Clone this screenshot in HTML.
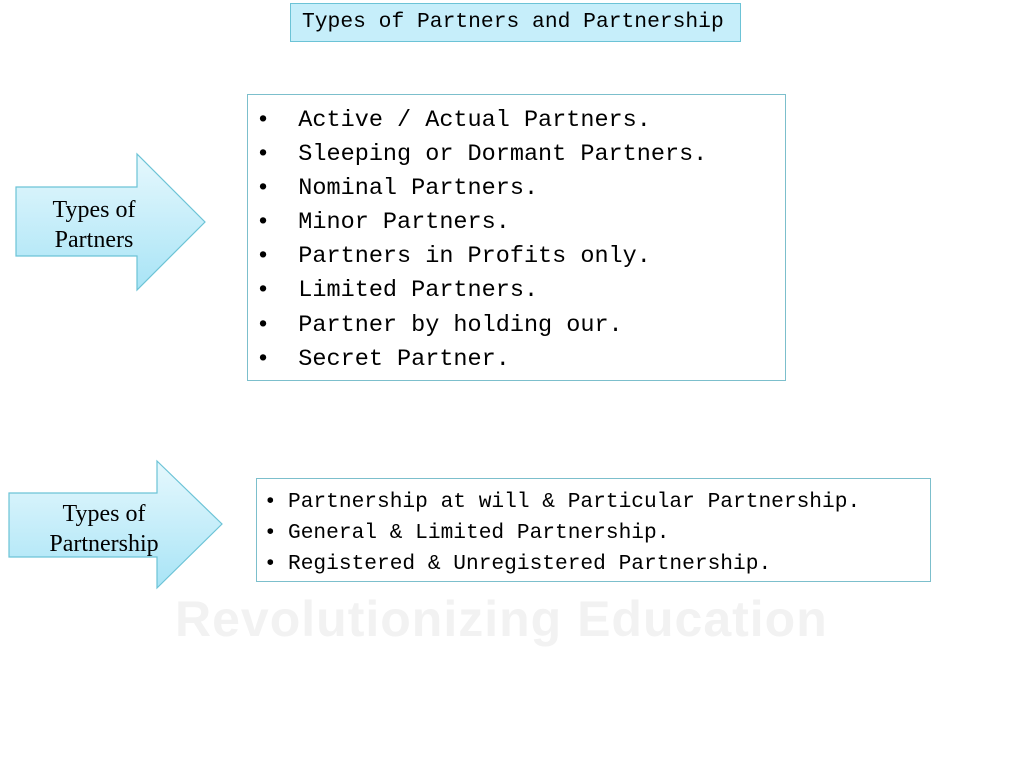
<!DOCTYPE html>
<html><head><meta charset="utf-8"><style>
body{margin:0;width:1024px;height:768px;background:#fff;position:relative;overflow:hidden;font-family:"Liberation Mono",monospace;color:#000}
.box{position:absolute;border:1.5px solid #7cbfcc;background:rgba(255,255,255,.9);box-sizing:border-box}
.t{position:absolute;white-space:pre}
</style></head><body>
<div class="t" style="left:175px;top:590px;font-family:'Liberation Sans',sans-serif;font-size:50px;letter-spacing:1px;color:#f2f2f2;font-weight:bold">Revolutionizing Education</div>
<div class="box" style="left:290px;top:3px;width:451px;height:39px;background:#c6eefa;border-color:#6cc3d6"></div>
<div class="t" style="left:302px;top:8px;font-size:21.3px;line-height:28px">Types of Partners and Partnership</div>

<svg width="1024" height="768" style="position:absolute;left:0;top:0">
<defs><linearGradient id="g" x1="0" y1="0" x2="0" y2="1"><stop offset="0" stop-color="#e6f8fd"/><stop offset="1" stop-color="#a8e4f6"/></linearGradient></defs>
<polygon points="16,187 137,187 137,154 205,222 137,290 137,256 16,256" fill="url(#g)" stroke="#6cc3d6" stroke-width="1.2"/>
<polygon points="9,493 157,493 157,461 222,524 157,588 157,557 9,557" fill="url(#g)" stroke="#6cc3d6" stroke-width="1.2"/>
<text x="94" y="217" font-family="Liberation Serif,serif" font-size="24" text-anchor="middle">Types of</text>
<text x="94" y="247" font-family="Liberation Serif,serif" font-size="24" text-anchor="middle">Partners</text>
<text x="104" y="521" font-family="Liberation Serif,serif" font-size="24" text-anchor="middle">Types of</text>
<text x="104" y="551" font-family="Liberation Serif,serif" font-size="24" text-anchor="middle">Partnership</text>
</svg>

<div class="box" style="left:247px;top:94px;width:539px;height:287px"></div>
<div class="t" style="left:256px;top:104px;font-size:23.5px;line-height:34.1px">•  Active / Actual Partners.
•  Sleeping or Dormant Partners.
•  Nominal Partners.
•  Minor Partners.
•  Partners in Profits only.
•  Limited Partners.
•  Partner by holding our.
•  Secret Partner.</div>

<div class="box" style="left:256px;top:478px;width:675px;height:104px"></div>
<div class="t" style="left:264px;top:487px;font-size:21px;line-height:31px">•</div>
<div class="t" style="left:264px;top:518px;font-size:21px;line-height:31px">•</div>
<div class="t" style="left:264px;top:549px;font-size:21px;line-height:31px">•</div>
<div class="t" style="left:288px;top:487px;font-size:21.2px;line-height:31px">Partnership at will & Particular Partnership.
General & Limited Partnership.
Registered & Unregistered Partnership.</div>
</body></html>
